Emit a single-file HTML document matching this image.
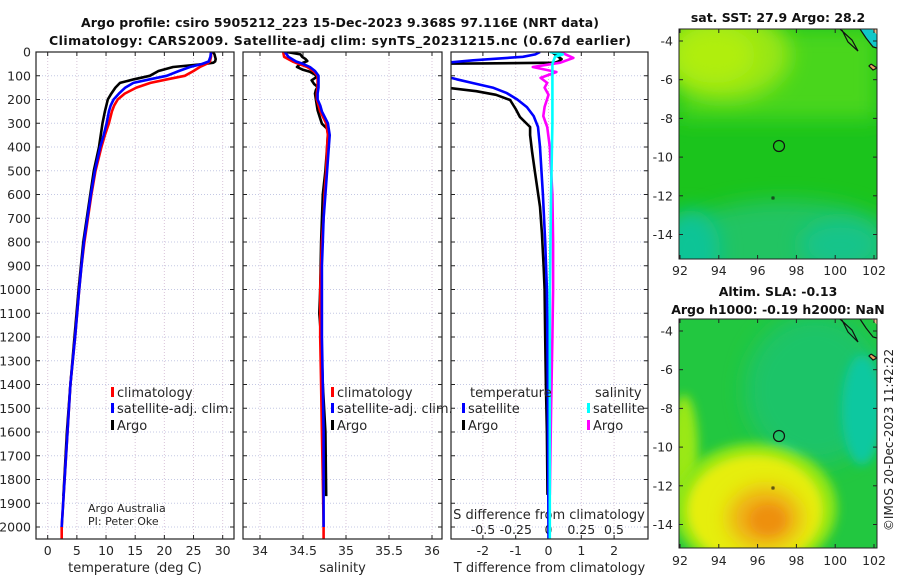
<!DOCTYPE html>
<html><head><meta charset="utf-8"><style>
html,body{margin:0;padding:0;background:#fff;}
svg{display:block;font-family:"DejaVu Sans","Liberation Sans",sans-serif;}
</style></head><body>
<svg id="fig" width="900" height="580" viewBox="0 0 900 580">
<defs>
<filter id="blur8" x="-50%" y="-50%" width="200%" height="200%"><feGaussianBlur stdDeviation="10"/></filter>
<filter id="blur4" x="-50%" y="-50%" width="200%" height="200%"><feGaussianBlur stdDeviation="5"/></filter>
<clipPath id="cp1"><rect x="36" y="52" width="198" height="487"/></clipPath>
<clipPath id="cp2"><rect x="243" y="52" width="199" height="487"/></clipPath>
<clipPath id="cp3"><rect x="451" y="52" width="197" height="487"/></clipPath>
<clipPath id="cm1"><rect x="679" y="29" width="198" height="230"/></clipPath>
<clipPath id="cm2"><rect x="679" y="319" width="198" height="229"/></clipPath>
</defs>
<text x="340" y="27" text-anchor="middle" font-weight="bold" font-size="12.5" textLength="518" fill="#111">Argo profile: csiro 5905212_223 15-Dec-2023 9.368S 97.116E (NRT data)</text>
<text x="340" y="45" text-anchor="middle" font-weight="bold" font-size="12.5" textLength="582" fill="#111">Climatology: CARS2009. Satellite-adj clim: synTS_20231215.nc (0.67d earlier)</text>

<g id="maps">
<text x="778" y="22" text-anchor="middle" font-weight="bold" font-size="12.5" fill="#111">sat. SST: 27.9 Argo: 28.2</text>
<g clip-path="url(#cm1)">
<rect x="679" y="29" width="198" height="230" fill="#1bc41c"/>
<rect x="679" y="29" width="198" height="90" fill="#48d61a" filter="url(#blur8)"/>
<ellipse cx="725" cy="55" rx="65" ry="45" fill="#98e612" filter="url(#blur8)"/>
<ellipse cx="715" cy="55" rx="40" ry="28" fill="#b0ee10" filter="url(#blur8)"/>
<ellipse cx="785" cy="250" rx="120" ry="50" fill="#22c462" filter="url(#blur8)"/>
<ellipse cx="690" cy="250" rx="30" ry="40" fill="#10c496" filter="url(#blur8)"/>
<ellipse cx="840" cy="245" rx="40" ry="25" fill="#12c48a" filter="url(#blur8)"/>
<polygon points="877,29 860,29 872,45 877,48" fill="#10c8c8"/>
<polygon points="872,29 877,29 877,35" fill="#f0c090"/>
<polyline points="840,29 852,40 858,51 848,42 842,30" fill="none" stroke="#111" stroke-width="1.2"/>
<polyline points="860,29 866,38 873,47 877,48" fill="none" stroke="#111" stroke-width="1.2"/>
<polyline points="871,64 877,68 873,70 869,66 871,64" fill="#e8a060" stroke="#111" stroke-width="1.2"/>
<circle cx="779" cy="146" r="5.5" fill="none" stroke="#111" stroke-width="1.2"/>
<rect x="772" y="197" width="2" height="2" fill="none" stroke="#111" stroke-width="0.8"/>
</g>
<rect x="679" y="29" width="198" height="230" fill="none" stroke="#222" stroke-width="1"/>

<text x="778" y="296" text-anchor="middle" font-weight="bold" font-size="12.5" fill="#111">Altim. SLA: -0.13</text>
<text x="778" y="314" text-anchor="middle" font-weight="bold" font-size="12.5" fill="#111">Argo h1000: -0.19 h2000: NaN</text>
<g clip-path="url(#cm2)">
<rect x="679" y="319" width="198" height="229" fill="#22c740"/>
<ellipse cx="815" cy="390" rx="70" ry="75" fill="#1ec468" filter="url(#blur8)"/>
<ellipse cx="862" cy="410" rx="20" ry="55" fill="#10c8a0" filter="url(#blur4)"/>
<ellipse cx="778" cy="464" rx="24" ry="20" fill="#10c8a8" filter="url(#blur4)"/>
<ellipse cx="684" cy="450" rx="14" ry="55" fill="#9ae812" filter="url(#blur4)"/>
<ellipse cx="755" cy="508" rx="82" ry="65" fill="#8ee616" filter="url(#blur4)"/>
<ellipse cx="755" cy="510" rx="68" ry="55" fill="#e6ee10" filter="url(#blur4)"/>
<ellipse cx="765" cy="518" rx="36" ry="30" fill="#f0a818" filter="url(#blur8)"/>
<ellipse cx="768" cy="520" rx="18" ry="15" fill="#ee9010" filter="url(#blur4)"/>
<polygon points="872,319 877,319 877,325" fill="#f0c090"/>
<polyline points="840,319 852,330 858,342 848,332 842,320" fill="none" stroke="#111" stroke-width="1.2"/>
<polyline points="860,319 866,328 873,337 877,338" fill="none" stroke="#111" stroke-width="1.2"/>
<polyline points="871,354 877,358 873,360 869,356 871,354" fill="#e8a060" stroke="#111" stroke-width="1.2"/>
<circle cx="779" cy="436" r="5.5" fill="none" stroke="#111" stroke-width="1.2"/>
<rect x="772" y="487" width="2" height="2" fill="none" stroke="#111" stroke-width="0.8"/>
</g>
<rect x="679" y="319" width="198" height="229" fill="none" stroke="#222" stroke-width="1"/>
<text transform="translate(893,440) rotate(-90)" text-anchor="middle" font-size="12" fill="#222">©IMOS 20-Dec-2023 11:42:22</text>
</g>
<g id="plots"></g>
</svg>
<script>
// ---- data ----
const tickDepths = [0,100,200,300,400,500,600,700,800,900,1000,1100,1200,1300,1400,1500,1600,1700,1800,1900,2000];
const tempTicks = [0,5,10,15,20,25,30];
const salTicks = [34,34.5,35,35.5,36];
const salTickLabels = ["34","34.5","35","35.5","36"];
const tdiffTicks = [-2,-1,0,1,2];
const sdiffTicks = [-0.5,-0.25,0,0.25,0.5];
const sdiffTickLabels = ["-0.5","-0.25","0","0.25","0.5"];

const depthClim = [0,20,40,50,63,80,100,115,130,150,175,200,225,250,300,350,400,500,600,700,800,900,1000,1200,1400,1600,1800,2000,2050];
const tClim = [28,28,27.8,27.2,26.1,25,23.5,20.5,17.6,15.2,13.2,12.0,11.4,11.0,10.5,9.8,9.2,8.2,7.5,6.9,6.3,5.8,5.4,4.7,3.9,3.4,2.9,2.4,2.4];
const tSat  = [28,27.9,27.6,26.5,24.4,22.5,20.4,17.5,14.7,13.3,12.2,11.3,10.8,10.5,10.1,9.6,9.0,8.1,7.4,6.8,6.2,5.8,5.4,4.7,3.9,3.4,2.9,2.4,2.4];
const depthArgoT = [0,10,20,30,40,45,50,63,80,100,115,130,150,175,200,250,300,400,500,600,800,1000,1200,1400,1600,1870];
const tArgo = [28.3,28.6,28.7,28.8,28.7,28.4,27,21.5,19,17.5,14.8,12.4,11.6,10.9,10.3,9.8,9.4,8.8,7.9,7.3,6.1,5.3,4.6,3.9,3.3,2.7];

const sClim = [34.27,34.28,34.38,34.45,34.55,34.62,34.67,34.67,34.67,34.67,34.66,34.66,34.68,34.70,34.77,34.79,34.78,34.77,34.75,34.74,34.72,34.71,34.70,34.70,34.71,34.72,34.73,34.74,34.74];
const sSat  = [34.29,34.33,34.42,34.5,34.58,34.64,34.68,34.68,34.68,34.68,34.67,34.67,34.70,34.72,34.79,34.81,34.80,34.78,34.76,34.74,34.73,34.72,34.72,34.72,34.73,34.74,34.74,34.74,34.74];
const depthArgoS = [0,10,20,30,38,50,63,75,83,95,105,119,135,147,160,175,200,245,280,302,323,343,400,500,600,800,1000,1100,1200,1400,1600,1870];
const sArgo = [34.31,34.47,34.49,34.53,34.55,34.47,34.43,34.50,34.58,34.64,34.66,34.60,34.63,34.67,34.65,34.64,34.65,34.67,34.70,34.72,34.78,34.79,34.78,34.76,34.73,34.71,34.70,34.69,34.71,34.73,34.76,34.77];

const depthDiffArgoT = [0,10,20,30,40,45,48,52,100,140,152,165,180,202,240,274,316,350,420,510,652,762,900,1000,1200,1400,1600,1865];
const dTArgo = [0.1,0.2,0.3,0.4,0.3,0.2,-2,-6,-6,-3.6,-3.0,-2.2,-1.6,-1.17,-1.0,-0.87,-0.56,-0.56,-0.5,-0.41,-0.26,-0.2,-0.15,-0.12,-0.1,-0.08,-0.05,-0.03];
const depthDiffSatT = [0,10,20,35,50,76,97,115,131,150,173,200,232,270,316,400,600,800,1000,1400,2050];
const dTSat = [-0.26,-0.4,-0.78,-2.3,-3.5,-4,-3.3,-2.8,-2.3,-1.7,-1.27,-0.95,-0.66,-0.45,-0.32,-0.26,-0.17,-0.1,-0.05,-0.02,0];
const depthDiffArgoS = [0,5,25,45,63,84,109,130,150,180,231,270,316,400,600,800,1000,1200,1500,1865];
const dSArgo = [0.05,0.11,0.19,0.09,-0.12,0.06,-0.06,-0.01,-0.03,0,-0.03,-0.04,-0.01,0.01,0.03,0.035,0.035,0.03,0.02,0.01];
const depthDiffSatS = [0,10,20,50,100,300,600,1000,1500,2050];
const dSSat = [0.01,0.11,0.05,0.03,0.03,0.03,0.02,0.01,0.01,0.01];

const latTicks = [-4,-6,-8,-10,-12,-14];
const lonTicks = [92,94,96,98,100,102];

// ---- axes ----
const NS = "http://www.w3.org/2000/svg";
const root = document.getElementById('plots');
const yD = d => 52 + d * 0.2375;
const xT = t => 47.7 + t * 5.833;
const xS = s => 260 + (s - 34) * 86;
const xDT = v => 548.5 + v * 32.8;
const xDS = v => 548.5 + v * 131;
function mk(tag, attrs, parent) {
  const e = document.createElementNS(NS, tag);
  for (const k in attrs) e.setAttribute(k, attrs[k]);
  (parent || root).appendChild(e);
  return e;
}
function txt(x, y, s, size, anchor, parent) {
  const t = mk('text', {x: x, y: y, 'font-size': size, 'text-anchor': anchor || 'middle', fill: '#262626'}, parent);
  t.textContent = s;
  return t;
}
function line(xs, ds, xf, color, clip, name) {
  let p = '';
  for (let i = 0; i < xs.length; i++) p += (i ? 'L' : 'M') + xf(xs[i]).toFixed(1) + ',' + yD(ds[i]).toFixed(1);
  const e = mk('path', {d: p, fill: 'none', stroke: color, 'stroke-width': 2.6, 'stroke-linejoin': 'round', 'clip-path': 'url(#' + clip + ')'});
  
  
}
const panels = [
  {x0: 36, x1: 234, ticks: tempTicks, labels: tempTicks.map(String), xf: xT, clip: 'cp1', label: 'temperature (deg C)', name: 'temperature-panel'},
  {x0: 243, x1: 442, ticks: salTicks, labels: salTickLabels, xf: xS, clip: 'cp2', label: 'salinity', name: 'salinity-panel'},
  {x0: 451, x1: 648, ticks: tdiffTicks, labels: tdiffTicks.map(String), xf: xDT, clip: 'cp3', label: 'T difference from climatology', name: 'difference-panel'}
];
panels.forEach((P, pi) => {
  const g = mk('g', {});
  
  
  tickDepths.forEach(d => {
    mk('line', {x1: P.x0, x2: P.x1, y1: yD(d), y2: yD(d), stroke: '#c4c8e4', 'stroke-width': 1, 'stroke-dasharray': '1,2'}, g);
    mk('line', {x1: P.x0, x2: P.x0 + 4, y1: yD(d), y2: yD(d), stroke: '#222'}, g);
    mk('line', {x1: P.x1 - 4, x2: P.x1, y1: yD(d), y2: yD(d), stroke: '#222'}, g);
    if (pi === 0) {
      const t = txt(31, yD(d) + 4.5, String(d), 12.5, 'end', g);
      
      
    }
  });
  P.ticks.forEach((v, i) => {
    const x = P.xf(v);
    mk('line', {x1: x, x2: x, y1: 52, y2: 539, stroke: '#d8c4d8', 'stroke-width': 1, 'stroke-dasharray': '1,2'}, g);
    mk('line', {x1: x, x2: x, y1: 539, y2: 535, stroke: '#222'}, g);
    mk('line', {x1: x, x2: x, y1: 52, y2: 56, stroke: '#222'}, g);
    const t = txt(x, 555, P.labels[i], 12.5, 'middle', g);
    
    
  });
  const xl = txt((P.x0 + P.x1) / 2, 572, P.label, 13, 'middle', g);
  
  
});
{
  const g = mk('g', {});
  
  
  sdiffTicks.forEach((v, i) => {
    const t = txt(xDS(v), 534, sdiffTickLabels[i], 12.5, 'middle', g);
    
    
  });
  const t = txt(549, 519, 'S difference from climatology', 13, 'middle', g);
  
  
}
// series
line(tArgo, depthArgoT, xT, '#000', 'cp1', 'temp-argo-line');
line(tClim, depthClim, xT, '#ff0000', 'cp1', 'temp-climatology-line');
line(tSat.slice(0, 28), depthClim.slice(0, 28), xT, '#0000ff', 'cp1', 'temp-satellite-line');
line(sArgo, depthArgoS, xS, '#000', 'cp2', 'sal-argo-line');
line(sClim, depthClim, xS, '#ff0000', 'cp2', 'sal-climatology-line');
line(sSat.slice(0, 28), depthClim.slice(0, 28), xS, '#0000ff', 'cp2', 'sal-satellite-line');
line(dTArgo, depthDiffArgoT, xDT, '#000', 'cp3', 'tdiff-argo-line');
line(dTSat, depthDiffSatT, xDT, '#0000ff', 'cp3', 'tdiff-satellite-line');
line(dSArgo, depthDiffArgoS, xDS, '#ff00ff', 'cp3', 'sdiff-argo-line');
line(dSSat, depthDiffSatS, xDS, '#00ffff', 'cp3', 'sdiff-satellite-line');
panels.forEach(P => { mk('rect', {x: P.x0, y: 52, width: P.x1 - P.x0, height: 487, fill: 'none', stroke: '#222', 'stroke-width': 1.2}); });

// legends
function legend(x, y, color, label, name) {
  const g = mk('g', {});
  
  
  mk('rect', {x: x, y: y - 10, width: 3, height: 10, fill: color}, g);
  txt(x + 6, y, label, 13, 'start', g);
}
legend(111, 397, '#ff0000', 'climatology', 'legend-climatology');
legend(111, 413, '#0000ff', 'satellite-adj. clim.', 'legend-satellite-adj');
legend(111, 430, '#000', 'Argo', 'legend-argo');
legend(331, 397, '#ff0000', 'climatology', 'legend-sal-climatology');
legend(331, 413, '#0000ff', 'satellite-adj. clim.', 'legend-sal-satellite-adj');
legend(331, 430, '#000', 'Argo', 'legend-sal-argo');
{ const t = txt(470, 397, 'temperature', 13, 'start');   }
{ const t = txt(595, 397, 'salinity', 13, 'start');   }
legend(462, 413, '#0000ff', 'satellite', 'legend-tdiff-satellite');
legend(462, 430, '#000', 'Argo', 'legend-tdiff-argo');
legend(587, 413, '#00ffff', 'satellite', 'legend-sdiff-satellite');
legend(587, 430, '#ff00ff', 'Argo', 'legend-sdiff-argo');
{ const t = txt(88, 512, 'Argo Australia', 11, 'start');   }
{ const t = txt(88, 525, 'PI: Peter Oke', 11, 'start');   }

// map ticks
[[41, 29, 259, 275], [331, 319, 548, 565]].forEach((m, mi) => {
  const g = mk('g', {});
  
  
  latTicks.forEach(v => {
    const y = m[0] + (-4 - v) * 19.35;
    mk('line', {x1: 679, x2: 683, y1: y, y2: y, stroke: '#222'}, g);
    mk('line', {x1: 873, x2: 877, y1: y, y2: y, stroke: '#222'}, g);
    txt(673, y + 4.5, String(v), 12.5, 'end', g);
  });
  lonTicks.forEach(v => {
    const x = 680 + (v - 92) * 19.4;
    mk('line', {x1: x, x2: x, y1: m[2], y2: m[2] - 4, stroke: '#222'}, g);
    mk('line', {x1: x, x2: x, y1: m[1], y2: m[1] + 4, stroke: '#222'}, g);
    txt(x, m[3], String(v), 12.5, 'middle', g);
  });
});
</script>
</body></html>
